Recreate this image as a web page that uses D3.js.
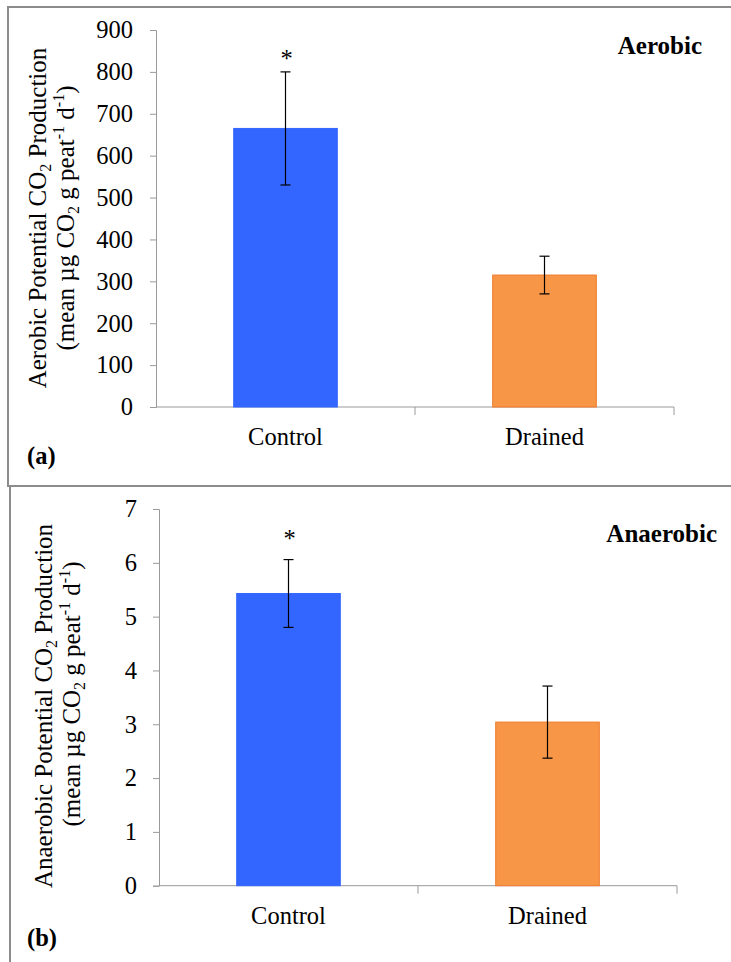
<!DOCTYPE html>
<html>
<head>
<meta charset="utf-8">
<script src="https://cdn.jsdelivr.net/npm/d3@7"></script>
<style>
  html, body { margin: 0; padding: 0; background: #fff; }
  svg, svg text { font-family: "Liberation Serif", "Times New Roman", serif !important; }
  svg { display: block; }
</style>
</head>
<body>
<svg id="fig" width="731" height="962"></svg>
<script>
// Treatment groups
const categories = ["Control", "Drained"];

// (a) aerobic potential CO2 production, mean and error
const aerobicMeans = [665, 315];
const aerobicErrors = [135, 45];
const aerobicTicks = [0, 100, 200, 300, 400, 500, 600, 700, 800, 900];

// (b) anaerobic potential CO2 production, mean and error
const anaerobicMeans = [5.43, 3.04];
const anaerobicErrors = [0.63, 0.67];
const anaerobicTicks = [0, 1, 2, 3, 4, 5, 6, 7];

// significance markers per group
const significance = ["*", ""];

const barColors = ["#3366FF", "#F79646"];
const barStrokes = ["#3366FF", "#F07A2A"];

const FS = 24.5;     // regular text size
const FS_SMALL = 16; // sub/superscripts

const svg = d3.select("#fig");
svg.append("rect").attr("width", 731).attr("height", 962).attr("fill", "#fff");

const panels = [
  {
    means: aerobicMeans, errors: aerobicErrors, ticks: aerobicTicks,
    max: 900, x0: 156, x1: 674, yTop: 30, yBot: 407,
    frame: {x: 8, y: 7, w: 740, h: 479},
    title: "Aerobic", titleX: 702, titleY: 54,
    tag: "(a)", tagY: 464,
    word: "Aerobic", yTitleX: [46, 74], yTitleMid: [218, 218],
    starY: 67, tickPad: 17
  },
  {
    means: anaerobicMeans, errors: anaerobicErrors, ticks: anaerobicTicks,
    max: 7, x0: 159, x1: 677, yTop: 509, yBot: 885.7,
    frame: {x: 10, y: 486, w: 740, h: 500},
    title: "Anaerobic", titleX: 717, titleY: 542,
    tag: "(b)", tagY: 946,
    word: "Anaerobic", yTitleX: [52, 80], yTitleMid: [706, 694],
    starY: 547, tickPad: 16
  }
];

panels.forEach(p => {
  const g = svg.append("g");

  // panel frame
  g.append("rect")
    .attr("x", p.frame.x).attr("y", p.frame.y)
    .attr("width", p.frame.w).attr("height", p.frame.h)
    .attr("fill", "none").attr("stroke", "#8c8c8c").attr("stroke-width", 2);

  const x = d3.scaleBand().domain(categories).range([p.x0, p.x1]).padding(0);
  const y = d3.scaleLinear().domain([0, p.max]).range([p.yBot, p.yTop]);
  const bw = x.bandwidth() * 0.4;

  // y axis
  const yAxis = g.append("g")
    .attr("transform", `translate(${p.x0},0)`)
    .call(d3.axisLeft(y).tickValues(p.ticks).tickSize(6).tickPadding(p.tickPad).tickFormat(d3.format("d")));
  yAxis.attr("font-family", null).attr("font-size", null);
  yAxis.select(".domain").attr("stroke", "#9a9a9a");
  yAxis.selectAll(".tick line").attr("stroke", "#9a9a9a");
  yAxis.selectAll(".tick text")
    .attr("font-size", FS).attr("fill", "#000");

  // x axis: baseline with ticks at band boundaries
  g.append("line")
    .attr("x1", p.x0).attr("x2", p.x1)
    .attr("y1", y(0)).attr("y2", y(0))
    .attr("stroke", "#9a9a9a");
  const bounds = [x(categories[1]), p.x1];
  g.selectAll(".xtick").data(bounds).enter().append("line")
    .attr("x1", d => d).attr("x2", d => d)
    .attr("y1", y(0)).attr("y2", y(0) + 8)
    .attr("stroke", "#9a9a9a");

  // category labels
  g.selectAll(".cat").data(categories).enter().append("text")
    .attr("x", d => x(d) + x.bandwidth() / 2)
    .attr("y", y(0) + 38)
    .attr("text-anchor", "middle")
    .attr("font-size", FS)
    .text(d => d);

  // bars
  g.selectAll(".bar").data(p.means).enter().append("rect")
    .attr("x", (d, i) => x(categories[i]) + x.bandwidth() / 2 - bw / 2)
    .attr("y", d => y(d))
    .attr("width", bw)
    .attr("height", d => y(0) - y(d))
    .attr("fill", (d, i) => barColors[i])
    .attr("stroke", (d, i) => barStrokes[i])
    .attr("stroke-width", 1);

  // error bars
  p.means.forEach((m, i) => {
    const cx = x(categories[i]) + x.bandwidth() / 2;
    const hi = y(m + p.errors[i]);
    const lo = y(m - p.errors[i]);
    const eg = g.append("g").attr("stroke", "#000").attr("stroke-width", 1.2);
    eg.append("line").attr("x1", cx).attr("x2", cx).attr("y1", hi).attr("y2", lo);
    eg.append("line").attr("x1", cx - 5).attr("x2", cx + 5).attr("y1", hi).attr("y2", hi);
    eg.append("line").attr("x1", cx - 5).attr("x2", cx + 5).attr("y1", lo).attr("y2", lo);
    if (significance[i]) {
      g.append("text")
        .attr("x", cx + 1).attr("y", p.starY)
        .attr("text-anchor", "middle")
        .attr("font-size", FS)
        .text(significance[i]);
    }
  });

  // panel title
  g.append("text")
    .attr("x", p.titleX).attr("y", p.titleY)
    .attr("text-anchor", "end")
    .attr("font-size", 25).attr("font-weight", "bold")
    .text(p.title);

  // panel tag
  g.append("text")
    .attr("x", 27).attr("y", p.tagY)
    .attr("font-size", FS).attr("font-weight", "bold")
    .text(p.tag);

  // y axis title, two lines with sub/superscripts
  const t1 = g.append("text")
    .attr("transform", `translate(${p.yTitleX[0]},${p.yTitleMid[0]}) rotate(-90)`)
    .attr("text-anchor", "middle").attr("font-size", 25);
  t1.append("tspan").text(p.word + " Potential CO");
  t1.append("tspan").attr("font-size", FS_SMALL).attr("dy", 5).text("2");
  t1.append("tspan").attr("dy", -5).text(" Production");

  const t2 = g.append("text")
    .attr("transform", `translate(${p.yTitleX[1]},${p.yTitleMid[1]}) rotate(-90)`)
    .attr("text-anchor", "middle").attr("font-size", 25);
  t2.append("tspan").text("(mean µg CO");
  t2.append("tspan").attr("font-size", FS_SMALL).attr("dy", 5).text("2");
  t2.append("tspan").attr("dy", -5).text(" g peat");
  t2.append("tspan").attr("font-size", FS_SMALL).attr("dy", -10).text("-1");
  t2.append("tspan").attr("dy", 10).text(" d");
  t2.append("tspan").attr("font-size", FS_SMALL).attr("dy", -10).text("-1");
  t2.append("tspan").attr("dy", 10).text(")");
});
</script>
</body>
</html>
